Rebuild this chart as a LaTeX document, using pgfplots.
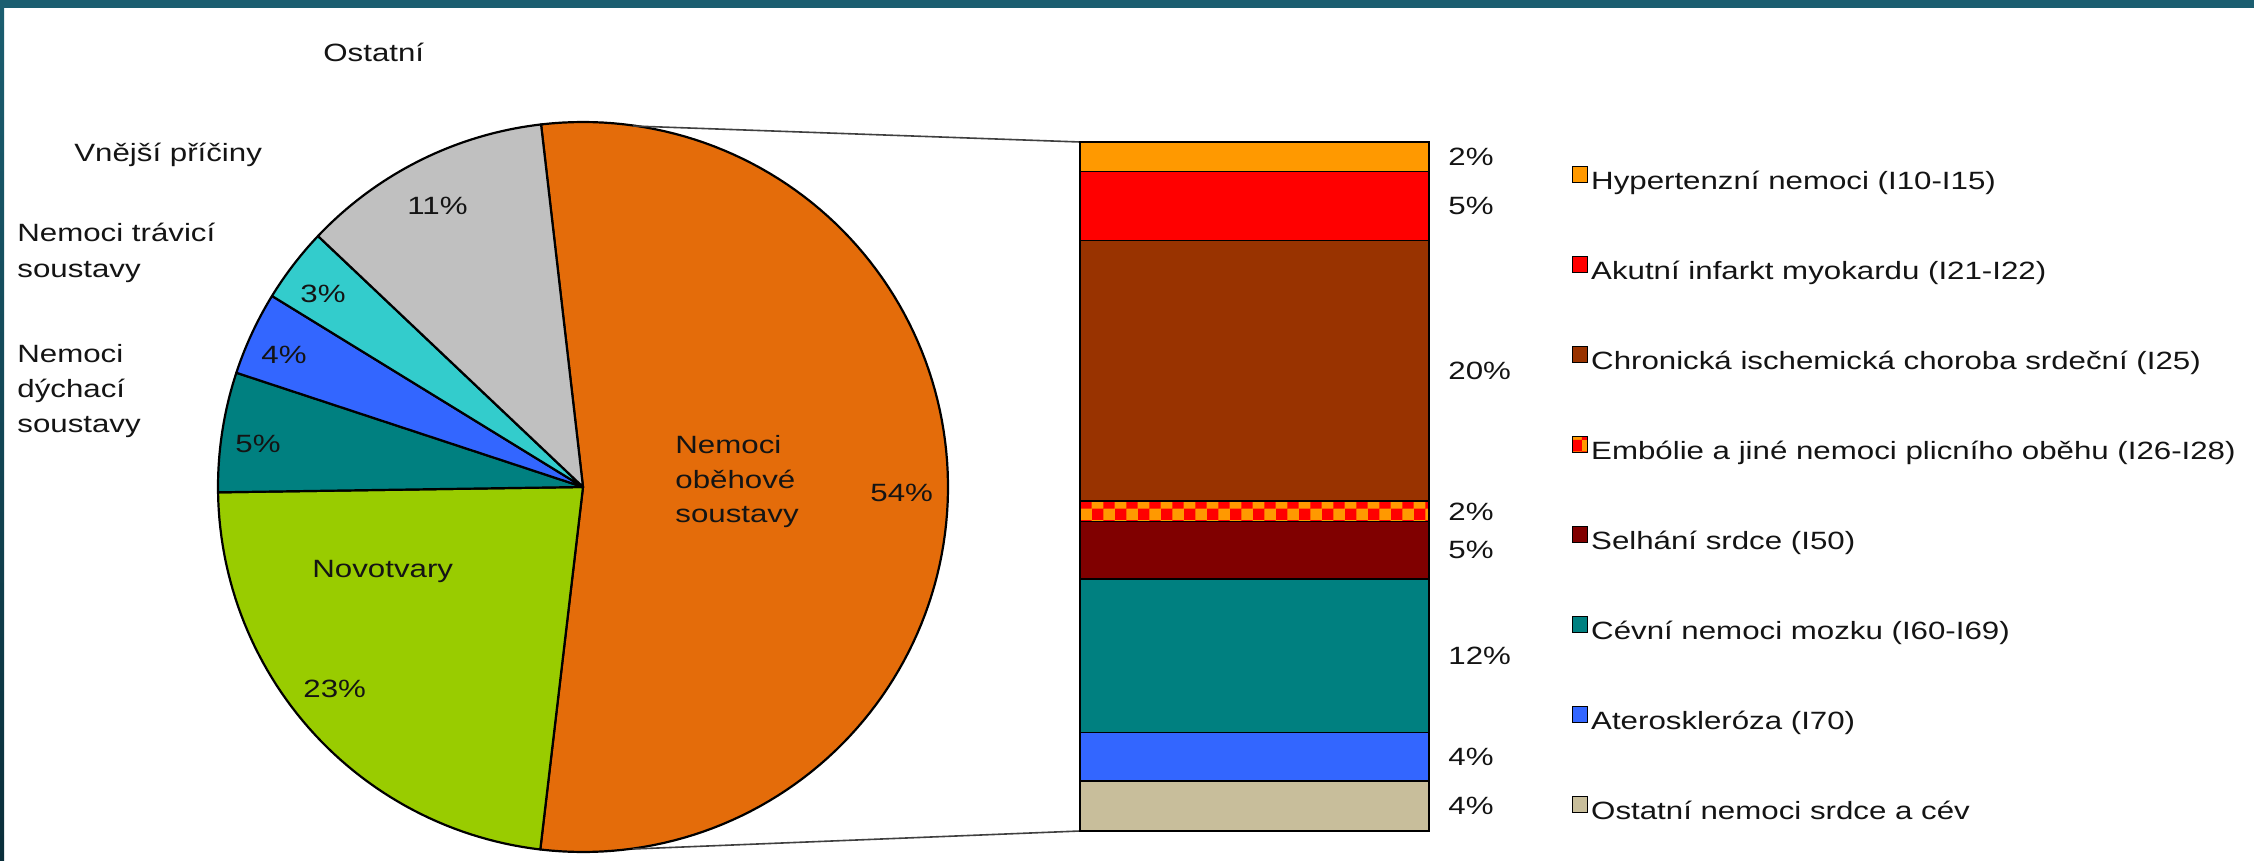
\documentclass[border=0pt]{standalone}
\usepackage{pgfplots}
\pgfplotsset{compat=1.18}
\usepackage{pgfplotstable}
\usetikzlibrary{patterns}
\usepackage{fontspec}
\setmainfont{Liberation Sans}[FakeStretch=1.25]

\definecolor{frameA}{RGB}{27,94,112}
\definecolor{frameB}{RGB}{10,46,58}
\definecolor{pOr}{RGB}{228,108,10}
\definecolor{pGr}{RGB}{153,204,0}
\definecolor{pTe}{RGB}{0,128,128}
\definecolor{pBl}{RGB}{51,102,255}
\definecolor{pCy}{RGB}{51,204,204}
\definecolor{pGy}{RGB}{192,192,192}
\definecolor{bHy}{RGB}{255,153,0}
\definecolor{bAk}{RGB}{255,0,0}
\definecolor{bCh}{RGB}{153,51,0}
\definecolor{bSe}{RGB}{128,0,0}
\definecolor{bCe}{RGB}{0,128,128}
\definecolor{bAt}{RGB}{51,102,255}
\definecolor{bOs}{RGB}{200,190,155}
\definecolor{txt}{RGB}{20,20,20}

\newcommand\lf{\fontsize{12.5}{15}\selectfont}

\pgfplotstableread{
idx value
0 53.7
1 22.9
2 5.3
3 3.7
4 3.3
5 11.1
}\piedata

\pgfplotstableread{
x ost ate cev sel emb chr aku hyp
0 3.9 3.8 12.0 4.5 1.6 20.4 5.4 2.3
}\bardata

\pgfplotsset{
  sqlegend/.style={legend image code/.code={%
    \draw[##1,draw=black,line width=0.7pt] (0pt,0.3pt) rectangle (7.5pt,8.3pt);}},
}
\tikzset{lab/.style={font=\lf, inner sep=0pt, anchor=base west, text=txt}}

\begin{document}
\begin{tikzpicture}
\def\tO{96.6}
\pgfplotstablegetelem{0}{value}\of\piedata \pgfmathsetmacro\tA{\tO-3.6*\pgfplotsretval}
\pgfplotstablegetelem{1}{value}\of\piedata \pgfmathsetmacro\tB{\tA-3.6*\pgfplotsretval}
\pgfplotstablegetelem{2}{value}\of\piedata \pgfmathsetmacro\tC{\tB-3.6*\pgfplotsretval}
\pgfplotstablegetelem{3}{value}\of\piedata \pgfmathsetmacro\tD{\tC-3.6*\pgfplotsretval}
\pgfplotstablegetelem{4}{value}\of\piedata \pgfmathsetmacro\tE{\tD-3.6*\pgfplotsretval}
\pgfplotstablegetelem{5}{value}\of\piedata \pgfmathsetmacro\tF{\tE-3.6*\pgfplotsretval}

% background and frame
\fill[white] (0,0) rectangle (1127pt,430.5pt);
\fill[frameA] (0,426.5pt) rectangle (1127pt,430.5pt);
\shade[top color=frameA,bottom color=frameB] (0,0) rectangle (2pt,430.5pt);

\begin{axis}[
  at={(0,0)}, anchor=south west,
  width=1127pt, height=430.5pt, scale only axis,
  xmin=0, xmax=2254, ymin=0, ymax=861, y dir=reverse,
  hide axis, clip=false,
]
\addplot[fill=pOr, draw=black, line width=1.1pt, line join=round, domain=\tA:\tO, samples=120]
  ({583+365*cos(x)},{487-365*sin(x)}) -- (axis cs:583,487) -- cycle;
\addplot[fill=pGr, draw=black, line width=1.1pt, line join=round, domain=\tB:\tA, samples=60]
  ({583+365*cos(x)},{487-365*sin(x)}) -- (axis cs:583,487) -- cycle;
\addplot[fill=pTe, draw=black, line width=1.1pt, line join=round, domain=\tC:\tB, samples=20]
  ({583+365*cos(x)},{487-365*sin(x)}) -- (axis cs:583,487) -- cycle;
\addplot[fill=pBl, draw=black, line width=1.1pt, line join=round, domain=\tD:\tC, samples=20]
  ({583+365*cos(x)},{487-365*sin(x)}) -- (axis cs:583,487) -- cycle;
\addplot[fill=pCy, draw=black, line width=1.1pt, line join=round, domain=\tE:\tD, samples=20]
  ({583+365*cos(x)},{487-365*sin(x)}) -- (axis cs:583,487) -- cycle;
\addplot[fill=pGy, draw=black, line width=1.1pt, line join=round, domain=\tF:\tE, samples=40]
  ({583+365*cos(x)},{487-365*sin(x)}) -- (axis cs:583,487) -- cycle;

% connectors
\draw[line width=0.8pt, black!75] (axis cs:633,126) -- (axis cs:1080,142);
\draw[line width=0.8pt, black!75] (axis cs:633,849) -- (axis cs:1080,831);

% outside labels
\node[lab] at (axis cs:323,62) {Ostatní};
\node[lab] at (axis cs:74,162) {Vnější příčiny};
\node[lab] at (axis cs:17,242) {Nemoci trávicí};
\node[lab] at (axis cs:17,278) {soustavy};
\node[lab] at (axis cs:17,362) {Nemoci};
\node[lab] at (axis cs:17,397) {dýchací};
\node[lab] at (axis cs:17,432) {soustavy};
% inside labels
\node[lab] at (axis cs:407,215) {11\%};
\node[lab] at (axis cs:300,302) {3\%};
\node[lab] at (axis cs:261,364) {4\%};
\node[lab] at (axis cs:235,452) {5\%};
\node[lab] at (axis cs:312,577) {Novotvary};
\node[lab] at (axis cs:303,697) {23\%};
\node[lab] at (axis cs:675,453) {Nemoci};
\node[lab] at (axis cs:675,488) {oběhové};
\node[lab] at (axis cs:675,522) {soustavy};
\node[lab] at (axis cs:870,501) {54\%};
\end{axis}

\begin{axis}[
  at={(540pt,15pt)}, anchor=south west,
  width=174.5pt, height=344.5pt, scale only axis,
  ybar stacked, bar width=174.5pt,
  xmin=-0.5, xmax=0.5, ymin=0, ymax=53.9,
  hide axis, clip=false,
  every axis plot post/.append style={sqlegend, draw=black, line width=0.7pt},
  reverse legend, legend cell align=left,
  legend style={at={(1.4097,0.4869)}, anchor=west, draw=none, fill=none,
    inner sep=0pt, outer sep=0pt, row sep=30.35pt, font=\lf,
    nodes={inner sep=0pt, text height=9pt, text depth=3pt, text=txt},
    /tikz/every odd column/.append style={column sep=1.4pt}},
]
\addplot[fill=bOs] table[x=x, y=ost] {\bardata};
\addlegendentry{Ostatní nemoci srdce a cév}
\addplot[fill=bAt] table[x=x, y=ate] {\bardata};
\addlegendentry{Ateroskleróza (I70)}
\addplot[fill=bCe] table[x=x, y=cev] {\bardata};
\addlegendentry{Cévní nemoci mozku (I60-I69)}
\addplot[fill=bSe] table[x=x, y=sel] {\bardata};
\addlegendentry{Selhání srdce (I50)}
\addplot[fill=bHy, postaction={pattern=checkerboard, pattern color=red}] table[x=x, y=emb] {\bardata};
\addlegendentry{Embólie a jiné nemoci plicního oběhu (I26-I28)}
\addplot[fill=bCh] table[x=x, y=chr] {\bardata};
\addlegendentry{Chronická ischemická choroba srdeční (I25)}
\addplot[fill=bAk] table[x=x, y=aku] {\bardata};
\addlegendentry{Akutní infarkt myokardu (I21-I22)}
\addplot[fill=bHy] table[x=x, y=hyp] {\bardata};
\addlegendentry{Hypertenzní nemoci (I10-I15)}

\node[lab, anchor=west, xshift=9.5pt] at (axis cs:0.5,52.75) {2\%};
\node[lab, anchor=west, xshift=9.5pt] at (axis cs:0.5,48.9) {5\%};
\node[lab, anchor=west, xshift=9.5pt] at (axis cs:0.5,36.0) {20\%};
\node[lab, anchor=west, xshift=9.5pt] at (axis cs:0.5,25.0) {2\%};
\node[lab, anchor=west, xshift=9.5pt] at (axis cs:0.5,21.95) {5\%};
\node[lab, anchor=west, xshift=9.5pt] at (axis cs:0.5,13.7) {12\%};
\node[lab, anchor=west, xshift=9.5pt] at (axis cs:0.5,5.8) {4\%};
\node[lab, anchor=west, xshift=9.5pt] at (axis cs:0.5,1.95) {4\%};
\end{axis}
\pgfresetboundingbox
\path (0,0) rectangle (1127pt,430.5pt);
\end{tikzpicture}
\end{document}
